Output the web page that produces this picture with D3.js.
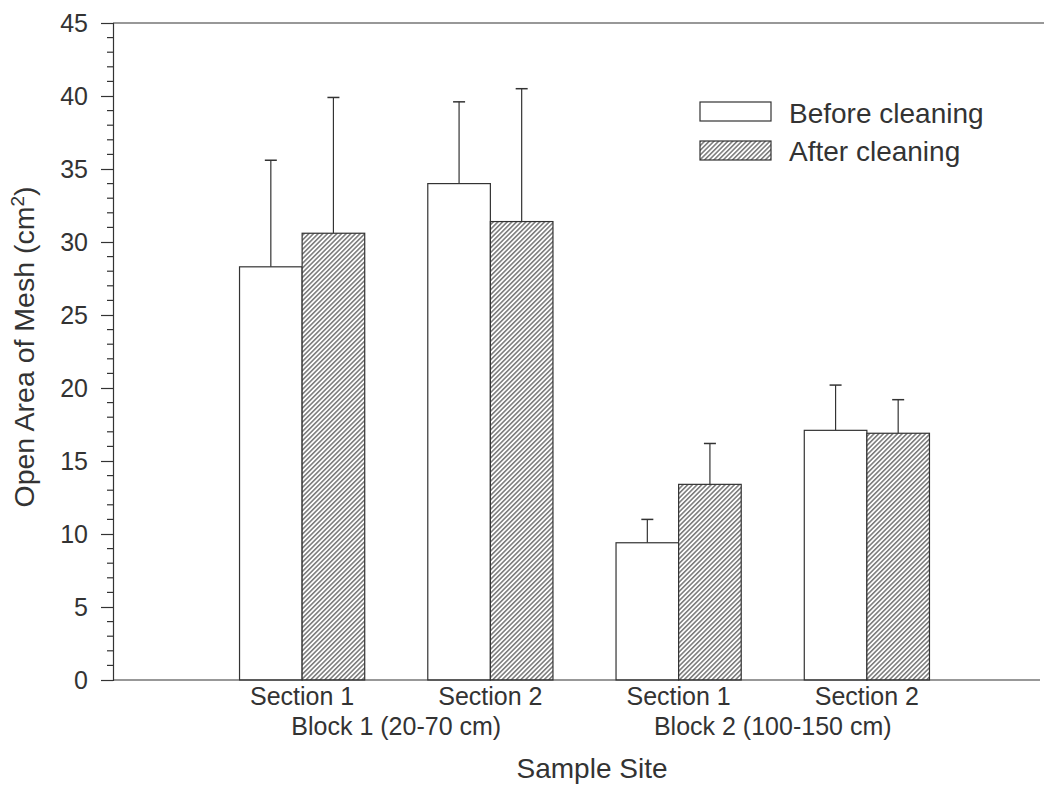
<!DOCTYPE html>
<html><head><meta charset="utf-8">
<script src="https://cdn.jsdelivr.net/npm/d3@7"></script>
<style>
body{margin:0;background:#fff;}
text{font-family:"Liberation Sans",Arial,sans-serif;fill:#333;}
</style></head>
<body>
<svg id="chart" width="1044" height="787"></svg>
<script>
const categories = ["B1S1","B1S2","B2S1","B2S2"];
const sectionLabels = ["Section 1","Section 2","Section 1","Section 2"];
const blockLabels = ["Block 1 (20-70 cm)","Block 2 (100-150 cm)"];
const seriesNames = ["Before cleaning","After cleaning"];
const beforeValues = [28.3, 34.0, 9.4, 17.1];
const beforeErrors = [7.3, 5.6, 1.6, 3.1];
const afterValues = [30.6, 31.4, 13.4, 16.9];
const afterErrors = [9.3, 9.1, 2.8, 2.3];
const yTicks = [0,5,10,15,20,25,30,35,40,45];

const svg = d3.select("#chart");
const ink = "#333";
const x0 = 113, x1 = 1040, yTop = 23, yBot = 680;

const y = d3.scaleLinear().domain([0,45]).range([yBot,yTop]);
const x = d3.scaleBand().domain(categories).range([208,961]).paddingInner(0.335).paddingOuter(0.1675);
const xs = d3.scaleBand().domain(seriesNames).range([0,x.bandwidth()]);

// hatch pattern
const defs = svg.append("defs");
const pat = defs.append("pattern").attr("id","hatch").attr("patternUnits","userSpaceOnUse")
  .attr("width",3.3).attr("height",6).attr("patternTransform","rotate(45)");
pat.append("rect").attr("width",3.3).attr("height",6).attr("fill","#fff");
pat.append("line").attr("x1",0.8).attr("y1",0).attr("x2",0.8).attr("y2",6).attr("stroke","#444").attr("stroke-width",1.1);

// frame line
svg.append("line").attr("x1",x0).attr("x2",1044).attr("y1",yTop).attr("y2",yTop).attr("stroke",ink).attr("stroke-width",1.2);

// y axis
const yAxis = d3.axisLeft(y).tickValues(yTicks).tickSize(12).tickPadding(13);
const gy = svg.append("g").attr("transform",`translate(${x0},0)`).call(yAxis);
gy.attr("font-size",null).attr("font-family",null);
gy.select(".domain").attr("stroke",ink).attr("stroke-width",1.2);
gy.selectAll(".tick line").attr("stroke",ink).attr("stroke-width",1.2);
gy.selectAll(".tick text").attr("font-size",25).attr("fill",ink).attr("dy","0.35em");
const minor = d3.range(0,46).filter(v=>v%5!==0);
svg.append("g").selectAll("line").data(minor).join("line")
  .attr("x1",x0-6).attr("x2",x0).attr("y1",d=>y(d)).attr("y2",d=>y(d)).attr("stroke",ink).attr("stroke-width",1.2);

// bars
const series = [
  {name:seriesNames[0], vals:beforeValues, errs:beforeErrors, fill:"#fff"},
  {name:seriesNames[1], vals:afterValues, errs:afterErrors, fill:"url(#hatch)"}
];
series.forEach(s=>{
  const g = svg.append("g");
  const data = categories.map((c,i)=>({c, v:s.vals[i], e:s.errs[i]}));
  const cx = d=>x(d.c)+xs(s.name)+xs.bandwidth()/2;
  g.selectAll("line.err").data(data).join("line").attr("class","err")
    .attr("x1",cx).attr("x2",cx)
    .attr("y1",d=>y(d.v)).attr("y2",d=>y(d.v+d.e)).attr("stroke",ink).attr("stroke-width",1.2);
  g.selectAll("line.cap").data(data).join("line").attr("class","cap")
    .attr("x1",d=>cx(d)-6).attr("x2",d=>cx(d)+6)
    .attr("y1",d=>y(d.v+d.e)).attr("y2",d=>y(d.v+d.e)).attr("stroke",ink).attr("stroke-width",1.5);
  g.selectAll("rect").data(data).join("rect")
    .attr("x",d=>x(d.c)+xs(s.name)).attr("width",xs.bandwidth())
    .attr("y",d=>y(d.v)).attr("height",d=>y(0)-y(d.v))
    .attr("fill",s.fill).attr("stroke",ink).attr("stroke-width",1.2);
});

// x axis line
svg.append("line").attr("x1",x0).attr("x2",x1).attr("y1",yBot).attr("y2",yBot).attr("stroke",ink).attr("stroke-width",1.2);

// section labels
svg.append("g").selectAll("text").data(categories).join("text")
  .attr("x",d=>x(d)+x.bandwidth()/2).attr("y",705).attr("text-anchor","middle").attr("font-size",25)
  .text((d,i)=>sectionLabels[i]);
// block labels
svg.append("g").selectAll("text").data(blockLabels).join("text")
  .attr("x",(d,i)=>(x(categories[2*i])+x(categories[2*i+1])+x.bandwidth())/2).attr("y",735)
  .attr("text-anchor","middle").attr("font-size",25).text(d=>d);
svg.append("text").attr("x",592).attr("y",778).attr("text-anchor","middle").attr("font-size",28).text("Sample Site");

// y label
const yl = svg.append("text").attr("transform","translate(34,347) rotate(-90)").attr("text-anchor","middle").attr("font-size",28.5);
yl.append("tspan").text("Open Area of Mesh (cm");
yl.append("tspan").attr("font-size",19).attr("dy",-10).text("2");
yl.append("tspan").attr("dy",10).text(")");

// legend
const lg = svg.append("g");
series.forEach((s,i)=>{
  lg.append("rect").attr("x",700).attr("y",102+i*39).attr("width",71).attr("height",19)
    .attr("fill",s.fill).attr("stroke",ink).attr("stroke-width",1.2);
  lg.append("text").attr("x",789).attr("y",123+i*38).attr("font-size",28).text(s.name);
});
</script>
</body></html>
